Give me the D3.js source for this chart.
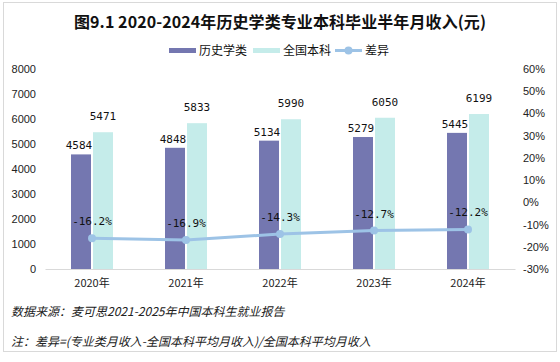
<!DOCTYPE html>
<html>
<head>
<meta charset="utf-8">
<script src="https://cdn.jsdelivr.net/npm/d3@7/dist/d3.min.js"></script>
<style>
  body { margin: 0; background: #fff; }
  #viz { width: 560px; height: 362px; }
</style>
</head>
<body>
<div id="viz"></div>
<script>
// data
var years = ["2020年", "2021年", "2022年", "2023年", "2024年"];
var historyIncome = [4584, 4848, 5134, 5279, 5445];
var nationalIncome = [5471, 5833, 5990, 6050, 6199];
var diffPct = [-16.2, -16.9, -14.3, -12.7, -12.2];
var leftTicks = [0, 1000, 2000, 3000, 4000, 5000, 6000, 7000, 8000];
var rightTicks = [-30, -20, -10, 0, 10, 20, 30, 40, 50, 60];

var W = 560, H = 362;
var margin = {top: 69, right: 45, bottom: 93, left: 45},
    width = W - margin.left - margin.right,
    height = H - margin.top - margin.bottom;

var cnFont = "'Noto Sans CJK SC', sans-serif";
var numFont = "'DejaVu Sans Mono', monospace";
var tickFont = "'Liberation Sans', Arial, sans-serif";

var root = d3.select("#viz")
  .append("svg")
  .attr("width", W)
  .attr("height", H);

// outer border
root.append("rect")
  .attr("x", 3.5).attr("y", 2.5)
  .attr("width", 553).attr("height", 349)
  .attr("fill", "#fff")
  .attr("stroke", "#d9d9d9");

// title
root.append("text")
  .attr("x", 280).attr("y", 28)
  .attr("text-anchor", "middle")
  .attr("textLength", 412)
  .style("font", "bold 16px " + cnFont)
  .attr("fill", "#111")
  .text("图9.1 2020-2024年历史学类专业本科毕业半年月收入(元)");

var svg = root.append("g")
  .attr("transform", "translate(" + margin.left + "," + margin.top + ")");

// scales
var x = d3.scaleBand().domain(years).range([0, width]);
var y = d3.scaleLinear().domain([0, 8000]).range([height, 0]);
var y2 = d3.scaleLinear().domain([-30, 60]).range([height, 0]);

// left axis
var yAxis = svg.append("g")
  .call(d3.axisLeft(y).tickValues(leftTicks).tickSize(0).tickPadding(9).tickFormat(d3.format("d")));
yAxis.select(".domain").remove();
yAxis.selectAll("text").style("font", "11px " + tickFont).attr("fill", "#222");

// right axis
var yAxis2 = svg.append("g")
  .attr("transform", "translate(" + width + ",0)")
  .call(d3.axisRight(y2).tickValues(rightTicks).tickSize(0).tickPadding(8)
    .tickFormat(function(d) { return d + "%"; }));
yAxis2.select(".domain").remove();
yAxis2.selectAll("text").style("font", "11px " + tickFont).attr("fill", "#222");

// bottom axis
var xAxis = svg.append("g")
  .attr("transform", "translate(0," + height + ")")
  .call(d3.axisBottom(x).tickSize(0).tickPadding(10));
xAxis.select(".domain").attr("stroke", "#d9d9d9");
xAxis.selectAll("text").style("font", "11px " + cnFont).attr("fill", "#222");

var barW = 20, gap = 2;

// bars
svg.selectAll(".barH")
  .data(historyIncome)
  .enter().append("rect")
  .attr("class", "barH")
  .attr("x", function(d, i) { return x(years[i]) + x.bandwidth() / 2 - barW - gap / 2; })
  .attr("y", function(d) { return y(d); })
  .attr("width", barW)
  .attr("height", function(d) { return height - y(d); })
  .attr("fill", "#7477b0");

svg.selectAll(".barN")
  .data(nationalIncome)
  .enter().append("rect")
  .attr("class", "barN")
  .attr("x", function(d, i) { return x(years[i]) + x.bandwidth() / 2 + gap / 2; })
  .attr("y", function(d) { return y(d); })
  .attr("width", barW)
  .attr("height", function(d) { return height - y(d); })
  .attr("fill", "#c5ecea");

// bar labels
svg.selectAll(".lblH")
  .data(historyIncome)
  .enter().append("text")
  .attr("x", function(d, i) { return x(years[i]) + x.bandwidth() / 2 - barW / 2 - gap / 2 - 2; })
  .attr("y", function(d) { return y(d) - 5; })
  .attr("text-anchor", "middle")
  .style("font", "11px " + numFont)
  .attr("fill", "#111")
  .text(function(d) { return d; });

svg.selectAll(".lblN")
  .data(nationalIncome)
  .enter().append("text")
  .attr("x", function(d, i) { return x(years[i]) + x.bandwidth() / 2 + barW / 2 + gap / 2; })
  .attr("y", function(d) { return y(d) - 12; })
  .attr("text-anchor", "middle")
  .style("font", "11px " + numFont)
  .attr("fill", "#111")
  .text(function(d) { return d; });

// diff line
var cx = function(d, i) { return x(years[i]) + x.bandwidth() / 2; };
svg.append("path")
  .datum(diffPct)
  .attr("fill", "none")
  .attr("stroke", "#9dc3e6")
  .attr("stroke-width", 3)
  .attr("d", d3.line().x(cx).y(function(d) { return y2(d); }));

svg.selectAll(".dot")
  .data(diffPct)
  .enter().append("circle")
  .attr("cx", cx)
  .attr("cy", function(d) { return y2(d); })
  .attr("r", 4)
  .attr("fill", "#9dc3e6");

svg.selectAll(".lblD")
  .data(diffPct)
  .enter().append("text")
  .attr("x", cx)
  .attr("y", function(d) { return y2(d) - 13; })
  .attr("text-anchor", "middle")
  .style("font", "11px " + numFont)
  .attr("fill", "#111")
  .text(function(d) { return d.toFixed(1) + "%"; });

// legend
var legend = root.append("g");
legend.append("rect").attr("x", 169).attr("y", 48).attr("width", 27).attr("height", 5).attr("fill", "#7477b0");
legend.append("text").attr("x", 199).attr("y", 55).style("font", "12px " + cnFont).attr("fill", "#111").text("历史学类");
legend.append("rect").attr("x", 253).attr("y", 48).attr("width", 27).attr("height", 5).attr("fill", "#c5ecea");
legend.append("text").attr("x", 283).attr("y", 55).style("font", "12px " + cnFont).attr("fill", "#111").text("全国本科");
legend.append("line").attr("x1", 335).attr("x2", 362).attr("y1", 50.5).attr("y2", 50.5)
  .attr("stroke", "#9dc3e6").attr("stroke-width", 3);
legend.append("circle").attr("cx", 348.5).attr("cy", 50.5).attr("r", 4).attr("fill", "#9dc3e6");
legend.append("text").attr("x", 365).attr("y", 55).style("font", "12px " + cnFont).attr("fill", "#111").text("差异");

// footnotes
root.append("text")
  .attr("x", 11).attr("y", 316)
  .style("font", "italic 12px " + cnFont)
  .attr("fill", "#222")
  .text("数据来源：麦可思2021-2025年中国本科生就业报告");
root.append("text")
  .attr("x", 11).attr("y", 346)
  .style("font", "italic 12px " + cnFont)
  .attr("fill", "#222")
  .text("注：差异=(专业类月收入-全国本科平均月收入)/全国本科平均月收入");
</script>
</body>
</html>
